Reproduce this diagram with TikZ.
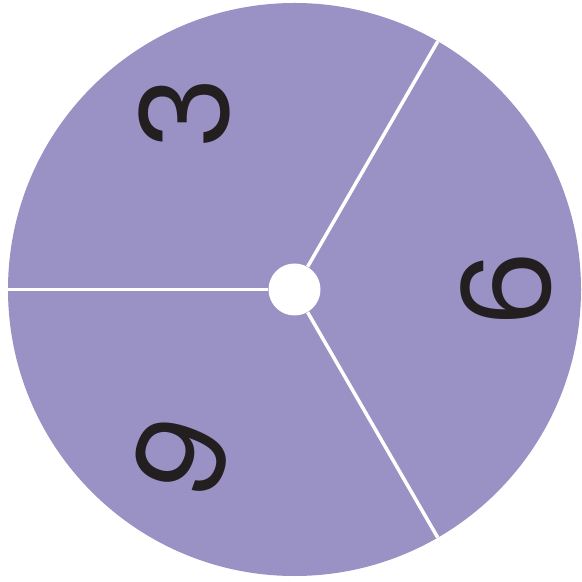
\documentclass[tikz,border=0pt]{standalone}
\usepackage{fontspec}
\setmainfont{Poppins}
\usetikzlibrary{positioning}
\definecolor{spinpurple}{HTML}{9A91C5}
\definecolor{digitblack}{HTML}{231F20}

\begin{document}
\begin{tikzpicture}[
  divider/.style={draw=white, line width=2pt},
  digit/.style={text=digitblack, font=\fontsize{70}{70}\selectfont, inner sep=0pt}]
  \useasboundingbox (-5.89,-5.85) rectangle (5.73,5.79);
  \fill[spinpurple] (0,0) circle (5.73);
  \coordinate (rimA) at (60:5.73);
  \coordinate (rimB) at (180:5.73);
  \coordinate (rimC) at (300:5.73);
  \node[circle, fill=white, minimum size=1.04cm, inner sep=0pt] (hub) at (0,0) {};
  \draw[divider] (hub) -- (rimA);
  \draw[divider] (hub) -- (rimB);
  \draw[divider] (hub) -- (rimC);
  % numbers
  \node[digit, rotate=90] (three) at (122:4.16) {3};
  \node[digit, rotate=90] (six) at (0:4.24) {6};
  \node[digit, rotate=70] (nine) at (236:4.05) {9};
\end{tikzpicture}
\end{document}
